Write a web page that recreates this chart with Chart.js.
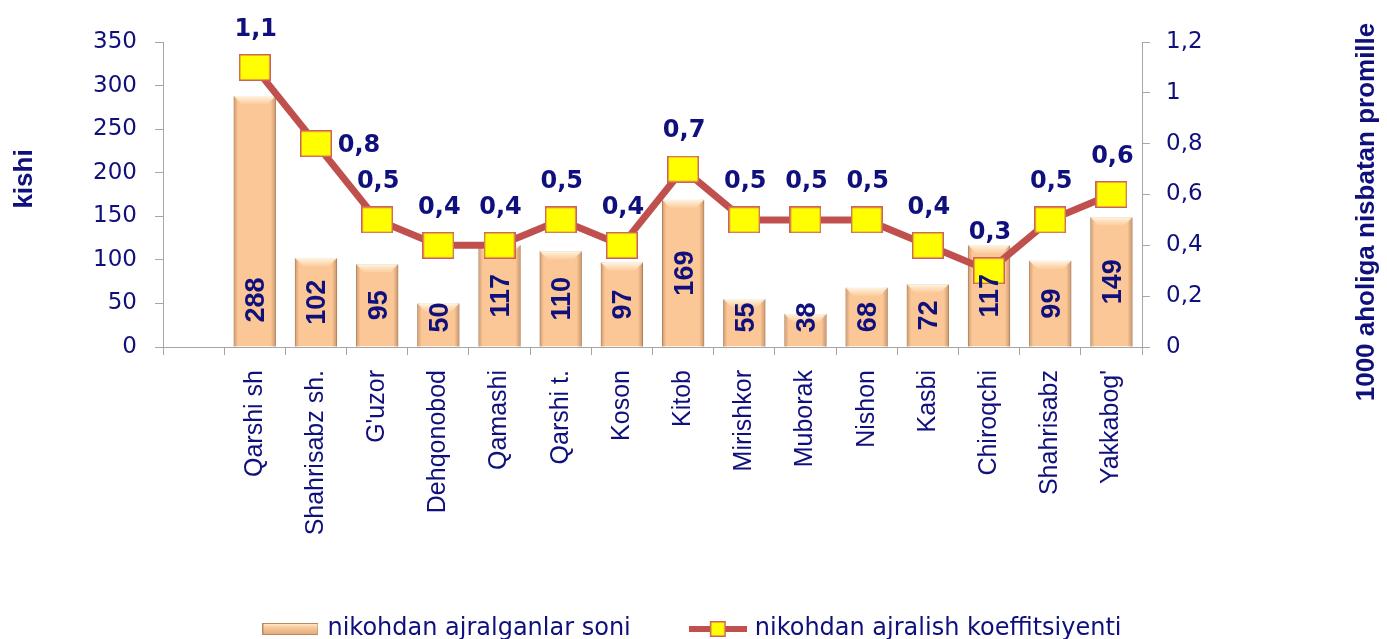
<!DOCTYPE html>
<html>
<head>
<meta charset="utf-8">
<script src="https://cdn.jsdelivr.net/npm/chart.js@4.4.1/dist/chart.umd.min.js"></script>
<style>
html,body{margin:0;padding:0;background:#ffffff;}
#wrap{width:1387px;height:639px;}
</style>
</head>
<body>
<div id="wrap"><canvas id="c" width="1387" height="639"></canvas></div>
<script>
// ---------- data ----------
const categories = ['', 'Qarshi sh', 'Shahrisabz sh.', "G'uzor", 'Dehqonobod', 'Qamashi', 'Qarshi t.', 'Koson', 'Kitob', 'Mirishkor', 'Muborak', 'Nishon', 'Kasbi', 'Chiroqchi', 'Shahrisabz', "Yakkabog'"];
const divorceCounts = [null, 288, 102, 95, 50, 117, 110, 97, 169, 55, 38, 68, 72, 117, 99, 149];
const divorceRate = [null, 1.1, 0.8, 0.5, 0.4, 0.4, 0.5, 0.4, 0.7, 0.5, 0.5, 0.5, 0.4, 0.3, 0.5, 0.6];
const leftTicks = [0, 50, 100, 150, 200, 250, 300, 350];
const rightTicks = [0, 0.2, 0.4, 0.6, 0.8, 1, 1.2];
const seriesNames = ['nikohdan ajralganlar soni', 'nikohdan ajralish koeffitsiyenti'];
const axisTitles = ['kishi', '1000 aholiga nisbatan promille'];

// ---------- style ----------
const NAVY = '#10107c';
const LINE_RED = '#C0504D';
const BAR_FILL = '#FBC797';
const BAR_EDGE = '#C99A72';
const rateLabelSide = ['', 'top', 'right', 'top', 'top', 'top', 'top', 'top', 'top', 'top', 'top', 'top', 'top', 'top', 'top', 'top'];
const countLabelAnchor = ['', 'base', 'center', 'center', 'center', 'center', 'center', 'center', 'center', 'center', 'center', 'center', 'center', 'center', 'center', 'center'];

const fmtComma = v => {
  const r = Math.round(v * 10) / 10;
  return String(r).replace('.', ',');
};

function makeSquare(w, h) {
  const c = document.createElement('canvas');
  c.width = w; c.height = h;
  const x = c.getContext('2d');
  x.fillStyle = '#FFFF00';
  x.fillRect(0, 0, w, h);
  x.strokeStyle = '#D0605A';
  x.lineWidth = 1.5;
  x.strokeRect(0.75, 0.75, w - 1.5, h - 1.5);
  return c;
}
const pointImg = makeSquare(32, 27);

function makeLegendBar() {
  const c = document.createElement('canvas');
  c.width = 56; c.height = 12;
  const x = c.getContext('2d');
  const g = x.createLinearGradient(0, 0, 0, 12);
  g.addColorStop(0, '#FFF0DC');
  g.addColorStop(0.35, '#FBCB9C');
  g.addColorStop(1, '#E0A878');
  x.fillStyle = g;
  x.fillRect(0, 0, 56, 12);
  x.strokeStyle = '#B98A62';
  x.lineWidth = 1;
  x.strokeRect(0.5, 0.5, 55, 11);
  return c;
}
function makeLegendLine() {
  const c = document.createElement('canvas');
  c.width = 58; c.height = 20;
  const x = c.getContext('2d');
  x.fillStyle = LINE_RED;
  x.fillRect(0, 7, 58, 6);
  x.fillStyle = '#FFFF00';
  x.fillRect(21, 2, 16, 16);
  x.strokeStyle = '#D0605A';
  x.lineWidth = 1.5;
  x.strokeRect(21.75, 2.75, 14.5, 14.5);
  return c;
}
const legendBarImg = makeLegendBar();
const legendLineImg = makeLegendLine();

// bar shading overlay (drawn from element geometry)
const barShade = {
  id: 'barShade',
  afterDatasetDraw(chart, args) {
    if (args.index !== 0) return;
    const ctx = chart.ctx;
    const meta = args.meta;
    meta.data.forEach((el, i) => {
      if (divorceCounts[i] == null) return;
      const {x, y, base, width} = el.getProps(['x', 'y', 'base', 'width'], true);
      const l = x - width / 2, r = x + width / 2;
      ctx.save();
      const g = ctx.createLinearGradient(l, 0, r, 0);
      g.addColorStop(0, 'rgba(150,95,55,0.45)');
      g.addColorStop(0.1, 'rgba(150,95,55,0.0)');
      g.addColorStop(0.88, 'rgba(150,95,55,0.0)');
      g.addColorStop(1, 'rgba(150,95,55,0.5)');
      ctx.fillStyle = g;
      ctx.fillRect(l, y, width, base - y);
      // top bevel
      const bh = Math.min(8, (base - y) / 2);
      const tg = ctx.createLinearGradient(0, y, 0, y + bh);
      tg.addColorStop(0, 'rgba(255,250,235,0.95)');
      tg.addColorStop(1, 'rgba(255,235,205,0.2)');
      ctx.fillStyle = tg;
      ctx.beginPath();
      ctx.moveTo(l, y);
      ctx.lineTo(r, y);
      ctx.lineTo(r - bh, y + bh);
      ctx.lineTo(l + bh, y + bh);
      ctx.closePath();
      ctx.fill();
      ctx.restore();
    });
  }
};

// data labels + axis titles
const labelsPlugin = {
  id: 'labelsPlugin',
  afterDatasetsDraw(chart) {
    const ctx = chart.ctx;
    const barMeta = chart.getDatasetMeta(0);
    const lineMeta = chart.getDatasetMeta(1);
    ctx.save();
    ctx.fillStyle = NAVY;
    // bar labels (rotated)
    ctx.font = 'bold 27px "Liberation Sans", Arial, sans-serif';
    barMeta.data.forEach((el, i) => {
      const v = divorceCounts[i];
      if (v == null) return;
      const {x, y, base} = el.getProps(['x', 'y', 'base'], true);
      const txt = String(v);
      const tw = ctx.measureText(txt).width;
      let cy;
      if (countLabelAnchor[i] === 'base') {
        cy = base - 24 - tw / 2;
      } else {
        cy = Math.min((y + base) / 2, base - 14 - tw / 2);
      }
      ctx.save();
      ctx.translate(x + 2, cy);
      ctx.rotate(-Math.PI / 2);
      ctx.textAlign = 'center';
      ctx.textBaseline = 'middle';
      ctx.fillText(txt, 0, 0);
      ctx.restore();
    });
    // line labels
    ctx.font = 'bold 24px "DejaVu Sans", sans-serif';
    ctx.textAlign = 'center';
    ctx.textBaseline = 'middle';
    lineMeta.data.forEach((el, i) => {
      const v = divorceRate[i];
      if (v == null) return;
      const {x, y} = el.getProps(['x', 'y'], true);
      const txt = fmtComma(v);
      if (rateLabelSide[i] === 'right') {
        ctx.fillText(txt, x + 43, y + 2);
      } else {
        ctx.fillText(txt, x + 1, y - 38);
      }
    });
    ctx.restore();
  },
  afterDraw(chart) {
    const ctx = chart.ctx;
    ctx.save();
    ctx.fillStyle = NAVY;
    ctx.font = 'bold 26px "Liberation Sans", Arial, sans-serif';
    ctx.textAlign = 'center';
    ctx.textBaseline = 'middle';
    ctx.save();
    ctx.translate(25, 179);
    ctx.rotate(-Math.PI / 2);
    ctx.fillText(axisTitles[0], 0, 0);
    ctx.restore();
    ctx.save();
    ctx.translate(1367, 212);
    ctx.rotate(-Math.PI / 2);
    ctx.fillText(axisTitles[1], 0, 0);
    ctx.restore();
    ctx.restore();
  }
};

const GRID = '#A6A6A6';
const TARGET_BOTTOM = 347;
const LEGEND_SHIFT = 12;

new Chart(document.getElementById('c'), {
  data: {
    labels: categories,
    datasets: [
      {
        type: 'bar',
        label: seriesNames[0],
        data: divorceCounts,
        yAxisID: 'y',
        backgroundColor: BAR_FILL,
        borderColor: BAR_EDGE,
        borderWidth: 1,
        barPercentage: 0.69,
        categoryPercentage: 1.0,
        order: 2
      },
      {
        type: 'line',
        label: seriesNames[1],
        data: divorceRate,
        yAxisID: 'y1',
        borderColor: LINE_RED,
        borderWidth: 7,
        pointStyle: pointImg,
        pointRadius: 14,
        pointHoverRadius: 14,
        tension: 0,
        clip: false,
        order: 1
      }
    ]
  },
  options: {
    responsive: false,
    animation: false,
    devicePixelRatio: 1,
    layout: { padding: { top: 42, left: 0, right: 0, bottom: -LEGEND_SHIFT } },
    plugins: {
      tooltip: { enabled: false },
      legend: {
        display: true,
        position: 'bottom',
        labels: {
          usePointStyle: true,
          pointStyleWidth: 50,
          padding: 62,
          color: NAVY,
          font: { family: '"DejaVu Sans", sans-serif', size: 24 },
          generateLabels: () => [
            { text: seriesNames[0], pointStyle: legendBarImg, fillStyle: BAR_FILL, strokeStyle: BAR_EDGE, lineWidth: 0, hidden: false, datasetIndex: 0, fontColor: NAVY },
            { text: seriesNames[1], pointStyle: legendLineImg, fillStyle: '#FFFF00', strokeStyle: LINE_RED, lineWidth: 0, hidden: false, datasetIndex: 1, fontColor: NAVY }
          ]
        }
      }
    },
    scales: {
      x: {
        offset: true,
        grid: { display: true, drawOnChartArea: false, drawTicks: true, tickLength: 8, color: GRID, offset: true },
        border: { display: true, color: GRID, width: 1 },
        ticks: {
          autoSkip: false,
          minRotation: 90,
          maxRotation: 90,
          padding: 15,
          color: NAVY,
          font: { family: '"Liberation Sans", Arial, sans-serif', size: 25 }
        },
        afterFit: (s) => {
          const lg = s.chart.legend ? s.chart.legend.height : 0;
          s.height = s.chart.height - TARGET_BOTTOM - lg + LEGEND_SHIFT;
        }
      },
      y: {
        position: 'left',
        min: 0,
        max: 350,
        afterBuildTicks: (s) => { s.ticks = leftTicks.map(v => ({ value: v })); },
        grid: { display: true, drawOnChartArea: false, drawTicks: true, tickLength: 8, color: GRID },
        border: { display: true, color: GRID, width: 1 },
        ticks: {
          padding: 18,
          color: NAVY,
          font: { family: '"DejaVu Sans", sans-serif', size: 23 },
          callback: (v) => String(v)
        },
        afterFit: (s) => { s.width = 163; }
      },
      y1: {
        position: 'right',
        min: 0,
        max: 1.2,
        afterBuildTicks: (s) => { s.ticks = rightTicks.map(v => ({ value: v })); },
        grid: { display: true, drawOnChartArea: false, drawTicks: true, tickLength: 8, color: GRID },
        border: { display: true, color: GRID, width: 1 },
        ticks: {
          padding: 16,
          color: NAVY,
          font: { family: '"DejaVu Sans", sans-serif', size: 23 },
          callback: (v) => fmtComma(v)
        },
        afterFit: (s) => { s.width = 245; }
      }
    }
  },
  plugins: [barShade, labelsPlugin]
});
</script>
</body>
</html>
